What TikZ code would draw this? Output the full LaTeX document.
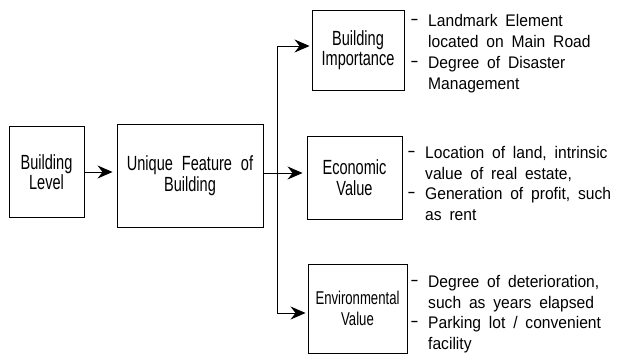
\documentclass[tikz,border=0pt]{standalone}
\usepackage{fontspec}
\usepackage{graphicx}
\setmainfont{Liberation Sans}
\newfontfamily\boxfont[FakeStretch=0.71,WordSpace=2.2]{Liberation Sans}
\newfontfamily\notefont[FakeStretch=0.93,WordSpace=1.8]{Liberation Sans}
\usetikzlibrary{arrows.meta}
% hanging dash in front of a note line
\newcommand\notedash{\llap{\raisebox{2pt}{\scalebox{1.6}[1]{-}}\hspace{9.5pt}}}
\newcommand\firstline{\rule{0pt}{13pt}}
\begin{document}
\begin{tikzpicture}[x=1pt,y=-1pt,
  box/.style={draw,line width=0.9pt,inner sep=0pt,align=center,
    font=\boxfont\fontsize{20.5}{20.5}\selectfont},
  note/.style={inner sep=0pt,anchor=north west,align=left,
    font=\notefont\fontsize{16.8}{20.7}\selectfont},
  link/.style={line width=0.9pt},
  arr/.style={link,-{Stealth[length=15pt,width=13pt,inset=5pt]},shorten >=2pt}]
\useasboundingbox (0,0) rectangle (621,356);

% main chain
\node[box,minimum width=75pt,minimum height=91pt] (level) at (46.5,172) {Building\\Level};
\node[box,minimum width=146pt,minimum height=103pt] (unique) at (190,175.5) {Unique Feature of\\Building};

% value boxes
\node[box,minimum width=92pt,minimum height=80pt] (imp) at (358,50) {Building\\Importance};
\node[box,minimum width=95pt,minimum height=83pt] (econ) at (354.5,177.5) {Economic\\Value};
\node[box,minimum width=99pt,minimum height=89pt,
  font=\boxfont\fontsize{18.5}{20.5}\selectfont] (env) at (357.5,308.5) {Environmental\\Value};

% notes
\node[note] (impnote) at (428,13.7) {\firstline\notedash Landmark Element\\located on Main Road\\\notedash Degree of Disaster\\Management};
\node[note] (econnote) at (425,145.3) {\firstline\notedash Location of land, intrinsic\\value of real estate,\\\notedash Generation of profit, such\\as rent};
\node[note] (envnote) at (428,274.3) {\firstline\notedash Degree of deterioration,\\such as years elapsed\\\notedash Parking lot / convenient\\facility};

% connectors
\coordinate (fork) at (277,173);
\coordinate (ttop) at (277,46);
\coordinate (tbot) at (277,313);
\draw[arr,shorten >=4pt] (level.east) -- (level.east -| unique.west);
\draw[arr,shorten >=4pt] (fork -| unique.east) -- (fork -| econ.west);
\draw[link] (ttop) -- (tbot);
\draw[arr] (ttop) -- (ttop -| imp.west);
\draw[arr] (tbot) -- (tbot -| env.west);
\end{tikzpicture}
\end{document}
